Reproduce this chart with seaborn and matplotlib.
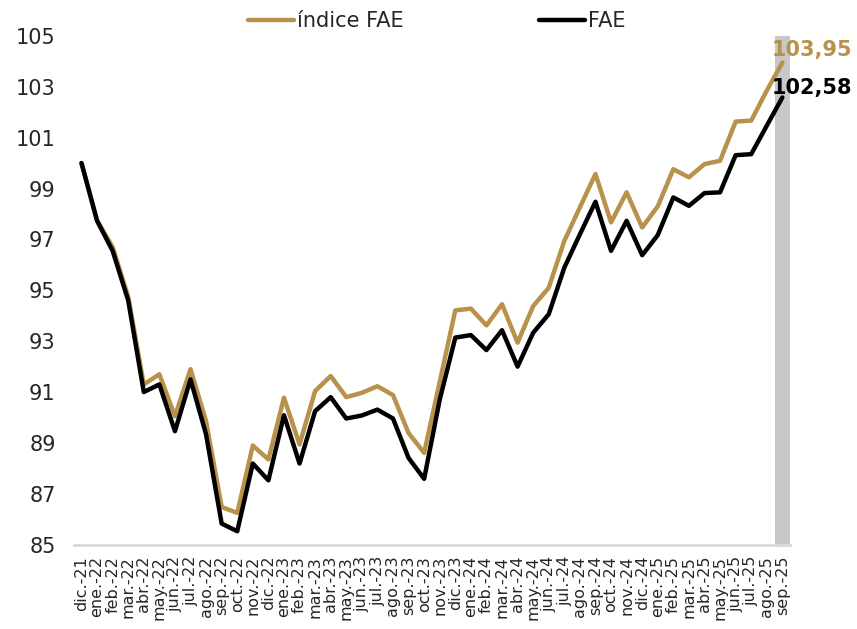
import numpy as np
import pandas as pd
import matplotlib
matplotlib.use("Agg")
import matplotlib.pyplot as plt
import seaborn as sns

# meses dic.-21 .. sep.-25
meses = ["dic.-21",
         "ene.-22", "feb.-22", "mar.-22", "abr.-22", "may.-22", "jun.-22",
         "jul.-22", "ago.-22", "sep.-22", "oct.-22", "nov.-22", "dic.-22",
         "ene.-23", "feb.-23", "mar.-23", "abr.-23", "may.-23", "jun.-23",
         "jul.-23", "ago.-23", "sep.-23", "oct.-23", "nov.-23", "dic.-23",
         "ene.-24", "feb.-24", "mar.-24", "abr.-24", "may.-24", "jun.-24",
         "jul.-24", "ago.-24", "sep.-24", "oct.-24", "nov.-24", "dic.-24",
         "ene.-25", "feb.-25", "mar.-25", "abr.-25", "may.-25", "jun.-25",
         "jul.-25", "ago.-25", "sep.-25"]

indice_fae = [100.0,
              97.75, 96.7, 94.75, 91.3, 91.7, 90.05, 91.9, 89.85, 86.48, 86.25, 88.9, 88.35,
              90.78, 88.94, 91.04, 91.63, 90.8, 90.97, 91.23, 90.88, 89.39, 88.61, 91.4, 94.21,
              94.28, 93.62, 94.45, 92.94, 94.38, 95.1, 96.94, 98.26, 99.57, 97.67, 98.85, 97.47,
              98.3, 99.76, 99.44, 99.96, 100.09, 101.63, 101.67, 102.85, 103.95]

fae = [100.0,
       97.73, 96.55, 94.6, 91.0, 91.3, 89.46, 91.5, 89.33, 85.83, 85.53, 88.19, 87.53,
       90.09, 88.19, 90.25, 90.8, 89.96, 90.08, 90.31, 89.96, 88.41, 87.59, 90.7, 93.14,
       93.24, 92.65, 93.43, 92.0, 93.33, 94.06, 95.89, 97.2, 98.48, 96.55, 97.73, 96.38,
       97.17, 98.65, 98.32, 98.82, 98.85, 100.31, 100.35, 101.47, 102.58]

oro = "#b8914a"

n = len(meses)
df = pd.DataFrame({
    "t": list(range(n)) * 2,
    "valor": indice_fae + fae,
    "serie": ["índice FAE"] * n + ["FAE"] * n,
})

sns.set_style("white")
plt.rcParams["font.family"] = ["DejaVu Sans"]

fig = plt.figure(figsize=(8.57, 6.29), dpi=100)
ax = fig.add_axes([0.086, 0.134, 0.836, 0.809])

# barra gris del último mes
ax.axvspan(n - 1.5, n - 0.5, color="#c8c8c8", lw=0, zorder=0)

sns.lineplot(data=df, x="t", y="valor", hue="serie",
             palette={"índice FAE": oro, "FAE": "black"},
             linewidth=3.2, ax=ax, legend=True)

ax.set_xlim(-0.5, n - 0.5)
ax.set_ylim(85, 105)
ax.set_yticks(np.arange(85, 106, 2))
ax.set_xticks(range(n))
ax.set_xticklabels(meses, rotation=90, fontsize=11.5)
ax.set_xticks(np.arange(-0.5, n, 1), minor=True)
ax.tick_params(axis="x", which="major", length=0, pad=8)
ax.tick_params(axis="x", which="minor", length=10, direction="inout",
               color="#d9d9d9", width=1.3)
ax.tick_params(axis="y", length=0, labelsize=15, pad=13)
ax.set_xlabel("")
ax.set_ylabel("")

for s in ["top", "right", "left"]:
    ax.spines[s].set_visible(False)
ax.spines["bottom"].set_color("#d9d9d9")
ax.spines["bottom"].set_linewidth(2)

# etiquetas del último valor
ax.text(n + 0.9, 104.45, f"{indice_fae[-1]:.2f}".replace(".", ","),
        color=oro, fontsize=15, fontweight="bold", ha="center", va="center",
        clip_on=False)
ax.text(n + 0.9, 102.95, f"{fae[-1]:.2f}".replace(".", ","),
        color="black", fontsize=15, fontweight="bold", ha="center", va="center",
        clip_on=False)

leg = ax.legend(loc="upper center", bbox_to_anchor=(0.51, 1.012),
                bbox_transform=fig.transFigure, ncol=2, frameon=False,
                fontsize=15, handlelength=2.2, handletextpad=0.15,
                columnspacing=6.5)
for h in leg.get_lines():
    h.set_linewidth(3.2)

fig.savefig("out.png", dpi=100)
